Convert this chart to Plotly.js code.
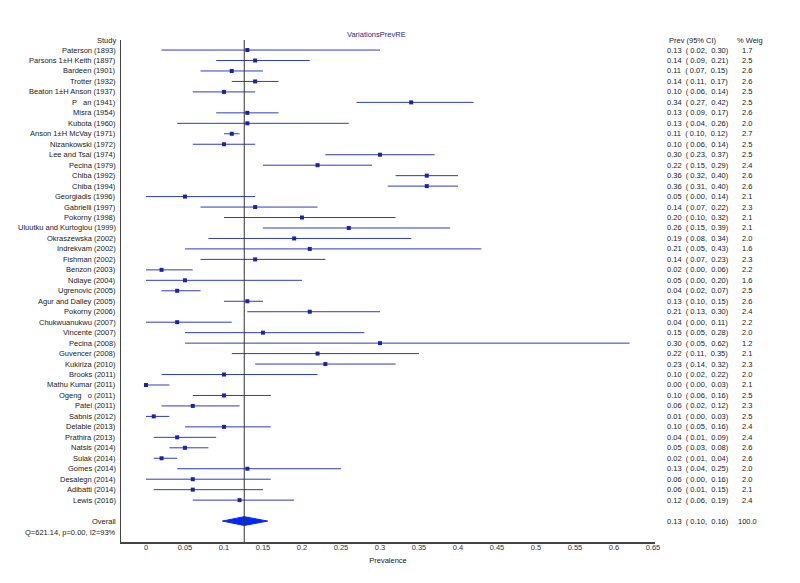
<!DOCTYPE html>
<html>
<head>
<meta charset="utf-8">
<script src="https://cdn.plot.ly/plotly-3.0.1.min.js"></script>
<style>html,body{margin:0;padding:0;background:#fff;}#chart{width:800px;height:583px;}</style>
</head>
<body>
<div id="chart"></div>
<script>
const studies = ["Paterson (1893)","Parsons 1±H Keith (1897)","Bardeen (1901)","Trotter (1932)","Beaton 1±H Anson (1937)","P   an (1941)","Misra (1954)","Kubota (1960)","Anson 1±H McVay (1971)","Nizankowski (1972)","Lee and Tsai (1974)","Pecina (1979)","Chiba (1992)","Chiba (1994)","Georgiadis (1996)","Gabrielli (1997)","Pokorny (1998)","Uluutku and Kurtoglou (1999)","Okraszewska (2002)","Indrekvam (2002)","Fishman (2002)","Benzon (2003)","Ndiaye (2004)","Ugrenovic (2005)","Agur and Dalley (2005)","Pokorny (2006)","Chukwuanukwu (2007)","Vincente (2007)","Pecina (2008)","Guvencer (2008)","Kukiriza (2010)","Brooks (2011)","Mathu Kumar (2011)","Ogeng   o (2011)","Patel (2011)","Sabnis (2012)","Delabie (2013)","Prathira (2013)","Natsis (2014)","Sulak (2014)","Gomes (2014)","Desalegn (2014)","Adibatti (2014)","Lewis (2016)"];
const prev = [0.13,0.14,0.11,0.14,0.10,0.34,0.13,0.13,0.11,0.10,0.30,0.22,0.36,0.36,0.05,0.14,0.20,0.26,0.19,0.21,0.14,0.02,0.05,0.04,0.13,0.21,0.04,0.15,0.30,0.22,0.23,0.10,0.00,0.10,0.06,0.01,0.10,0.04,0.05,0.02,0.13,0.06,0.06,0.12];
const lower = [0.02,0.09,0.07,0.11,0.06,0.27,0.09,0.04,0.10,0.06,0.23,0.15,0.32,0.31,0.00,0.07,0.10,0.15,0.08,0.05,0.07,0.00,0.00,0.02,0.10,0.13,0.00,0.05,0.05,0.11,0.14,0.02,0.00,0.06,0.02,0.00,0.05,0.01,0.03,0.01,0.04,0.00,0.01,0.06];
const upper = [0.30,0.21,0.15,0.17,0.14,0.42,0.17,0.26,0.12,0.14,0.37,0.29,0.40,0.40,0.14,0.22,0.32,0.39,0.34,0.43,0.23,0.06,0.20,0.07,0.15,0.30,0.11,0.28,0.62,0.35,0.32,0.22,0.03,0.16,0.12,0.03,0.16,0.09,0.08,0.04,0.25,0.16,0.15,0.19];
const weights = [1.7,2.5,2.6,2.6,2.5,2.5,2.6,2.0,2.7,2.5,2.5,2.4,2.6,2.6,2.1,2.3,2.1,2.1,2.0,1.6,2.3,2.2,1.6,2.5,2.6,2.4,2.2,2.0,1.2,2.1,2.3,2.0,2.1,2.5,2.3,2.5,2.4,2.4,2.6,2.6,2.0,2.0,2.1,2.4];
const overallLabel = "Overall";
const overallPrev = 0.126;
const overallLower = 0.098;
const overallUpper = 0.156;
const overallWeight = 100.0;
const heterogeneityText = "Q=621.14, p=0.00, I2=93%";
const xTickVals = [0,0.05,0.1,0.15,0.2,0.25,0.3,0.35,0.4,0.45,0.5,0.55,0.6,0.65];
const xTickText = ["0","0.05","0.1","0.15","0.2","0.25","0.3","0.35","0.4","0.45","0.5","0.55","0.6","0.65"];

const FONT = "Liberation Sans, Arial, sans-serif";
const fs = 7.5;
const n = studies.length;
const rowIdx = studies.map((_, i) => i);
const overallRow = n + 1;
const qRow = n + 2.05;

const ciX = [], ciY = [];
for (let i = 0; i < n; i++) { ciX.push(lower[i], upper[i], null); ciY.push(i, i, null); }

const dh = 0.42;
const traces = [
  {type:'scatter', mode:'lines', x:ciX, y:ciY, line:{color:'rgb(45,60,190)', width:1}, hoverinfo:'skip', showlegend:false},
  {type:'scatter', mode:'markers', x:prev, y:rowIdx, marker:{symbol:'square', size:4, color:'rgb(25,35,170)'}, showlegend:false},
  {type:'scatter', mode:'lines', fill:'toself', fillcolor:'rgb(5,40,250)',
   x:[overallLower, overallPrev, overallUpper, overallPrev, overallLower],
   y:[overallRow, overallRow-dh, overallRow, overallRow+dh, overallRow],
   line:{color:'rgb(5,40,250)', width:1}, showlegend:false}
];

const fmt = v => v.toFixed(2);
const ann = [];
const txt = (text, opts) => Object.assign({text:text, showarrow:false, font:{family:FONT, size:fs, color:'#1a1a1a'}, borderpad:0}, opts);
for (let i = 0; i < n; i++) {
  ann.push(txt(studies[i], {xref:'paper', yref:'y', x:0, y:i, xanchor:'right', xshift:-4}));
  ann.push(txt(fmt(prev[i]) + "  ( " + fmt(lower[i]) + ",  " + fmt(upper[i]) + ")", {xref:'paper', yref:'y', x:1, y:i, xanchor:'left', xshift:11}));
  ann.push(txt(weights[i].toFixed(1), {xref:'paper', yref:'y', x:1, y:i, xanchor:'center', xshift:92}));
}
ann.push(txt(overallLabel, {xref:'paper', yref:'y', x:0, y:overallRow, xanchor:'right', xshift:-4}));
ann.push(txt(fmt(overallPrev) + "  ( " + fmt(overallLower) + ",  " + fmt(overallUpper) + ")", {xref:'paper', yref:'y', x:1, y:overallRow, xanchor:'left', xshift:11}));
ann.push(txt(overallWeight.toFixed(1), {xref:'paper', yref:'y', x:1, y:overallRow, xanchor:'center', xshift:92}));
ann.push(txt(heterogeneityText, {xref:'paper', yref:'y', x:0, y:qRow, xanchor:'right', xshift:-4}));
ann.push(txt("Study", {xref:'paper', yref:'paper', x:0, y:1, xanchor:'right', yanchor:'middle', xshift:-4}));
ann.push(txt("Prev (95% CI)", {xref:'paper', yref:'paper', x:1, y:1, xanchor:'left', yanchor:'middle', xshift:13}));
ann.push(txt("% Weig", {xref:'paper', yref:'paper', x:1, y:1, xanchor:'left', yanchor:'middle', xshift:81}));
ann.push(txt("VariationsPrevRE", {xref:'x', yref:'paper', x:0.295, y:1, xanchor:'center', yanchor:'middle', yshift:6, font:{family:FONT, size:fs, color:'rgb(40,40,140)'}}));

const layout = {
  width:800, height:583,
  margin:{l:121, r:145, t:40, b:41, pad:0},
  paper_bgcolor:'#fff', plot_bgcolor:'#fff',
  showlegend:false,
  xaxis:{range:[-0.032, 0.6526], tickvals:xTickVals, ticktext:xTickText, showgrid:false, zeroline:false,
         showline:true, linecolor:'#444', linewidth:1.5, ticks:'', ticklabelstandoff:-3,
         tickfont:{family:FONT, size:7.5, color:'#333'}, automargin:false,
         title:{text:'Prevalence', font:{family:FONT, size:7.5, color:'#222'}, standoff:7}},
  yaxis:{range:[47.0, -0.96], showgrid:false, zeroline:false, showline:true, linecolor:'#444', linewidth:1.5,
         showticklabels:false, ticks:'', automargin:false},
  shapes:[{type:'line', xref:'x', yref:'paper', x0:overallPrev, x1:overallPrev, y0:0, y1:1, line:{color:'#333', width:1}}],
  annotations:ann
};
Plotly.newPlot('chart', traces, layout, {staticPlot:true, displayModeBar:false});
</script>
</body>
</html>
